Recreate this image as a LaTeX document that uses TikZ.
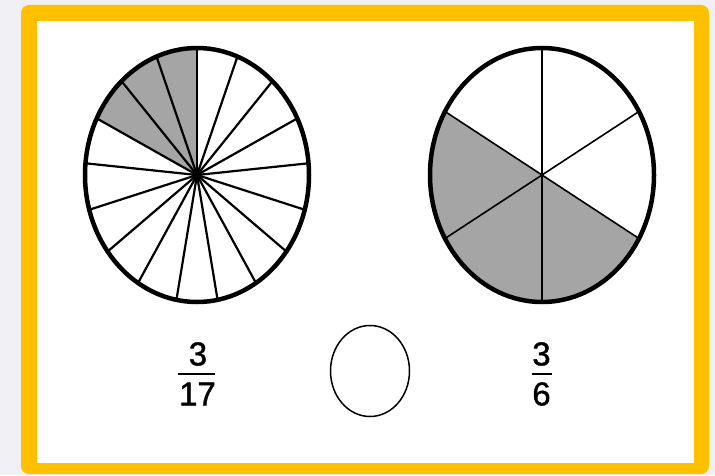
\documentclass[tikz,border=0pt]{standalone}
\usepackage{fontspec}
\setmainfont{Liberation Sans}
\newfontfamily\digfont[FakeBold=1.2]{Liberation Sans}
\usetikzlibrary{shapes.geometric}
\definecolor{bgout}{HTML}{F0EFF3}
\definecolor{frameyel}{HTML}{FFC000}
\definecolor{sectgrey}{HTML}{A5A5A5}
\tikzset{
  outline/.style={line width=4.5pt, draw=black},
  spoke/.style={line width=2.2pt, draw=black},
  spokethin/.style={line width=1.6pt, draw=black},
  shade/.style={fill=sectgrey},
  digit/.style={font=\digfont\fontsize{33}{35}\selectfont, inner sep=0pt, anchor=center},
  fracbar/.style={line width=2.4pt, draw=black}
}
\begin{document}
\begin{tikzpicture}[x=1pt,y=1pt]
\useasboundingbox (0,0) rectangle (715,475);
\fill[bgout] (0,0) rectangle (715,475);
% frame
\fill[frameyel, rounded corners=8pt] (21,1) rectangle (709,470);
\fill[white] (37,12) rectangle (694,454);

% left ellipse, 17 parts, 3 shaded
\begin{scope}[shift={(197,300)}]
  \fill[shade] (0,0) -- (90:112 and 127) arc[start angle=90, end angle={90+3*360/17}, x radius=112, y radius=127] -- cycle;
  \foreach \k in {0,...,16} \draw[spoke] (0,0) -- ({90+\k*360/17}:112 and 127);
  \fill (0,0) circle (4.5);
  \draw[outline] (0,0) ellipse [x radius=112, y radius=127];
\end{scope}

% right ellipse, 6 parts, 3 shaded
\begin{scope}[shift={(542,300)}]
  \fill[shade] (0,0) -- (150:112 and 127) arc[start angle=150, end angle=330, x radius=112, y radius=127] -- cycle;
  \foreach \a in {30,90,...,330} \draw[spokethin] (0,0) -- (\a:112 and 127);
  \draw[outline] (0,0) ellipse [x radius=112, y radius=127];
\end{scope}

% small empty ellipse
\draw[line width=1.5pt] (370,104) ellipse [x radius=39.5, y radius=45.5];

% fractions
\node[digit] (n1) at (198,121) {3};
\node[digit] (d1) at (197.5,81) {17};
\coordinate (b1l) at (178,101);
\coordinate (b1r) at (215,101);
\draw[fracbar] (b1l) -- (b1r);

\node[digit] (n2) at (541.5,121) {3};
\node[digit] (d2) at (541.5,81) {6};
\coordinate (b2l) at (532,101);
\coordinate (b2r) at (552,101);
\draw[fracbar] (b2l) -- (b2r);
\end{tikzpicture}
\end{document}
